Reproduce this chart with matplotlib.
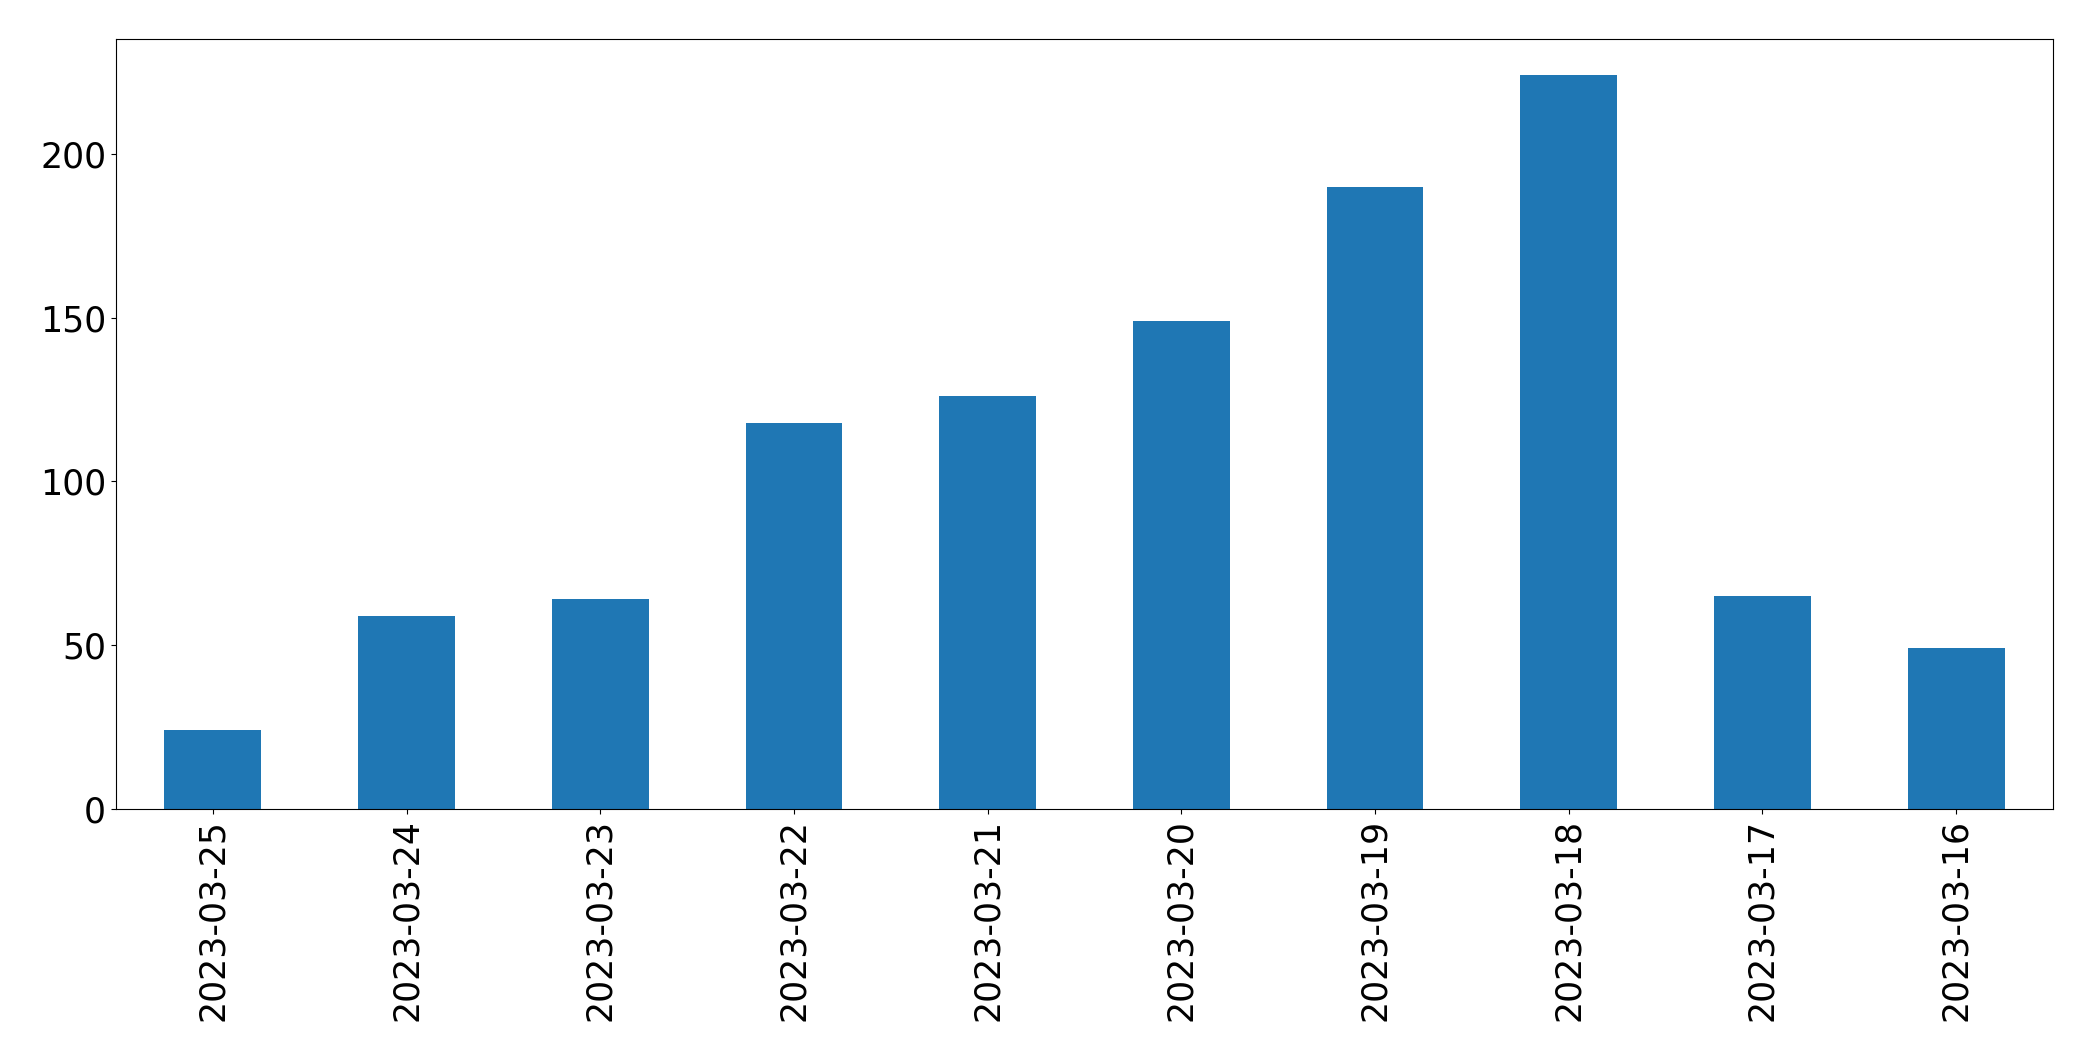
import matplotlib
matplotlib.use("Agg")
import matplotlib.pyplot as plt

dates = ["2023-03-25", "2023-03-24", "2023-03-23", "2023-03-22", "2023-03-21",
         "2023-03-20", "2023-03-19", "2023-03-18", "2023-03-17", "2023-03-16"]
counts = [24, 59, 64, 118, 126, 149, 190, 224, 65, 49]

fig = plt.figure(figsize=(20.93, 10.61), dpi=100)
ax = fig.add_axes([0.0554, 0.2376, 0.9255, 0.7259])
x = list(range(len(dates)))
ax.bar(x, counts, width=0.5, color="#1f77b4")
ax.set_xlim(-0.5, len(dates) - 0.5)
ax.set_ylim(0, max(counts) * 1.05)
ax.set_xticks(x)
ax.set_xticklabels(dates, rotation=90, fontsize=25)
ax.tick_params(axis="y", labelsize=25)
ax.set_yticks([0, 50, 100, 150, 200])
fig.savefig("out.png", dpi=100)
